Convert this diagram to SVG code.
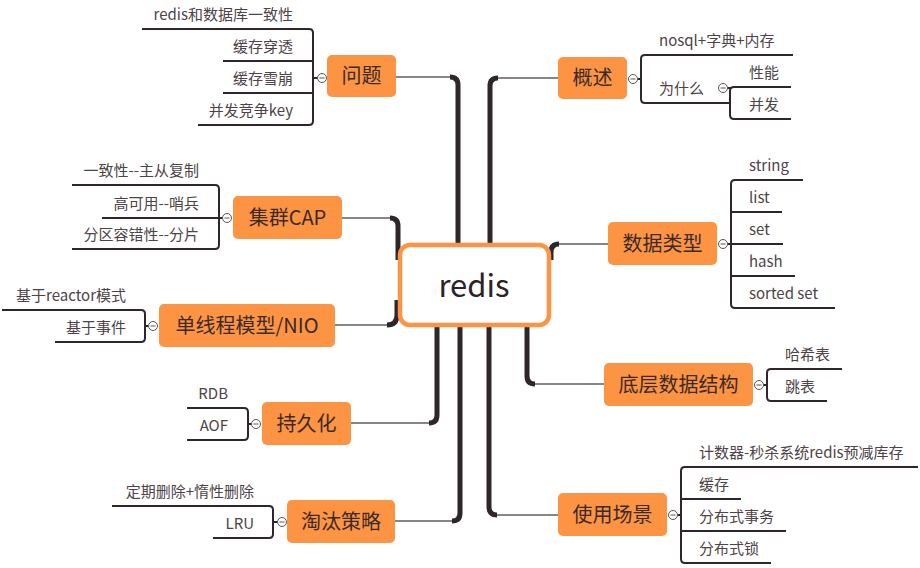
<svg xmlns="http://www.w3.org/2000/svg" width="920" height="568" viewBox="0 0 920 568">
<style>
.bg{fill:#ffffff}
.trunk{fill:none;stroke:#2e262b;stroke-width:5;stroke-linecap:butt;stroke-linejoin:round}
.stem{fill:none;stroke:#8a8488;stroke-width:2}
.br{fill:none;stroke:#2e262b;stroke-width:2}
.node rect{fill:#fc9443}
.node text{font-family:"Noto Sans CJK SC","Noto Sans",sans-serif;font-size:20px;fill:#3b2a28;text-anchor:middle}
.leaf{font-family:"Noto Sans CJK SC","Noto Sans",sans-serif;font-size:15px;fill:#4d4348}
.end{text-anchor:end}
.col circle{fill:#ffffff;stroke:#5a5358;stroke-width:1}
.col path{stroke:#5a5358;stroke-width:1}
</style>
<rect class="bg" x="0" y="0" width="920" height="568"/>

<g id="connectors">
  <path class="stem" d="M396 77 H452"/><path class="trunk" d="M450 77 Q458 77 458 85 V250"/>
  <path class="stem" d="M342 218 H392"/><path class="trunk" d="M390 218 Q398 218 398 226 V260"/>
  <path class="stem" d="M335 325 H389"/><path class="trunk" d="M387 325 Q397 325 397 315 V300"/>
  <path class="stem" d="M351 423 H431"/><path class="trunk" d="M429 423 Q437 423 437 415 V320"/>
  <path class="stem" d="M395 521 H454"/><path class="trunk" d="M452 521 Q460 521 460 513 V320"/>
  <path class="stem" d="M558 78 H496"/><path class="trunk" d="M498 78 Q490 78 490 86 V250"/>
  <path class="stem" d="M608 244 H557"/><path class="trunk" d="M559 244 Q551 244 551 252 V260"/>
  <path class="stem" d="M604 384 H533"/><path class="trunk" d="M535 384 Q527 384 527 376 V320"/>
  <path class="stem" d="M558 515 H495"/><path class="trunk" d="M497 515 Q489 515 489 507 V320"/>
</g>

<g id="redis">
  <rect x="400" y="245" width="149" height="80" rx="10" fill="#ffffff" stroke="#fc9443" stroke-width="4.5"/>
  <text x="474" y="297" font-family="'Noto Sans CJK SC','Noto Sans',sans-serif" font-size="31" fill="#2a2228" text-anchor="middle">redis</text>
</g>

<!-- 问题 -->
<g id="wenti">
  <g class="node"><rect x="327" y="55" width="69" height="42" rx="5"/><text x="361.5" y="83">问题</text></g>
  <path class="br" d="M142 29 H309 Q313 29 313 33 V121 Q313 125 309 125 H198 M223 61 H313 M223 93 H313 M313 78 H318"/>
  <g class="col"><circle cx="322" cy="78" r="4.5"/><path d="M319.5 78 H324.5"/></g>
  <text class="leaf end" x="293" y="20">redis和数据库一致性</text>
  <text class="leaf end" x="293" y="52">缓存穿透</text>
  <text class="leaf end" x="293" y="84">缓存雪崩</text>
  <text class="leaf end" x="293" y="116">并发竞争key</text>
</g>

<!-- 集群CAP -->
<g id="cap">
  <g class="node"><rect x="233" y="196" width="109" height="43" rx="5"/><text x="287.5" y="225">集群CAP</text></g>
  <path class="br" d="M72 185 H215 Q219 185 219 189 V245 Q219 249 215 249 H72 M102 218 H223"/>
  <g class="col"><circle cx="227" cy="218" r="4.5"/><path d="M224.5 218 H229.5"/></g>
  <text class="leaf end" x="199" y="176">一致性--主从复制</text>
  <text class="leaf end" x="199" y="209">高可用--哨兵</text>
  <text class="leaf end" x="199" y="240">分区容错性--分片</text>
</g>

<!-- 单线程模型/NIO -->
<g id="thread">
  <g class="node"><rect x="159" y="304" width="176" height="43" rx="5"/><text x="247" y="332.5">单线程模型/NIO</text></g>
  <path class="br" d="M2 310 H141 Q145 310 145 314 V338 Q145 342 141 342 H55 M145 326 H149"/>
  <g class="col"><circle cx="153" cy="326" r="4.5"/><path d="M150.5 326 H155.5"/></g>
  <text class="leaf end" x="126" y="301">基于reactor模式</text>
  <text class="leaf end" x="126" y="333">基于事件</text>
</g>

<!-- 持久化 -->
<g id="persist">
  <g class="node"><rect x="262" y="402" width="89" height="43" rx="5"/><text x="306.5" y="430.5">持久化</text></g>
  <path class="br" d="M187 408 H244 Q248 408 248 412 V436 Q248 440 244 440 H187 M248 424 H252"/>
  <g class="col"><circle cx="256" cy="424" r="4.5"/><path d="M253.5 424 H258.5"/></g>
  <text class="leaf end" x="228" y="399">RDB</text>
  <text class="leaf end" x="228" y="431">AOF</text>
</g>

<!-- 淘汰策略 -->
<g id="evict">
  <g class="node"><rect x="287" y="500" width="108" height="43" rx="5"/><text x="341" y="528.5">淘汰策略</text></g>
  <path class="br" d="M112 506 H269 Q273 506 273 510 V534 Q273 538 269 538 H213 M273 522 H278"/>
  <g class="col"><circle cx="282" cy="522" r="4.5"/><path d="M279.5 522 H284.5"/></g>
  <text class="leaf end" x="254" y="497">定期删除+惰性删除</text>
  <text class="leaf end" x="254" y="529">LRU</text>
</g>

<!-- 概述 -->
<g id="overview">
  <g class="node"><rect x="558" y="57" width="69" height="42" rx="5"/><text x="592.5" y="85">概述</text></g>
  <path class="br" d="M793 55 H645 Q641 55 641 59 V99 Q641 103 645 103 H730 M641 79 H637"/>
  <g class="col"><circle cx="633" cy="79" r="4.5"/><path d="M630.5 79 H635.5"/></g>
  <text class="leaf" x="659" y="46">nosql+字典+内存</text>
  <text class="leaf" x="659" y="94">为什么</text>
  <path class="br" d="M791 87 H734 Q730 87 730 91 V115 Q730 119 734 119 H791 M727 88 H731"/>
  <g class="col"><circle cx="723" cy="88" r="4.5"/><path d="M720.5 88 H725.5"/></g>
  <text class="leaf" x="749" y="78">性能</text>
  <text class="leaf" x="749" y="110">并发</text>
</g>

<!-- 数据类型 -->
<g id="datatype">
  <g class="node"><rect x="608" y="222" width="109" height="43" rx="5"/><text x="662.5" y="250.5">数据类型</text></g>
  <path class="br" d="M803 180 H735 Q731 180 731 184 V304 Q731 308 735 308 H835 M731 212 H782 M727 244 H783 M731 276 H795"/>
  <g class="col"><circle cx="723" cy="244" r="4.5"/><path d="M720.5 244 H725.5"/></g>
  <text class="leaf" x="749" y="171">string</text>
  <text class="leaf" x="749" y="203">list</text>
  <text class="leaf" x="749" y="235">set</text>
  <text class="leaf" x="749" y="267">hash</text>
  <text class="leaf" x="749" y="299">sorted set</text>
</g>

<!-- 底层数据结构 -->
<g id="structure">
  <g class="node"><rect x="604" y="363" width="149" height="43" rx="5"/><text x="678.5" y="391.5">底层数据结构</text></g>
  <path class="br" d="M842 369 H771 Q767 369 767 373 V397 Q767 401 771 401 H827 M763 385 H767"/>
  <g class="col"><circle cx="759" cy="385" r="4.5"/><path d="M756.5 385 H761.5"/></g>
  <text class="leaf" x="785" y="360">哈希表</text>
  <text class="leaf" x="785" y="392">跳表</text>
</g>

<!-- 使用场景 -->
<g id="usage">
  <g class="node"><rect x="558" y="493" width="109" height="43" rx="5"/><text x="612.5" y="521.5">使用场景</text></g>
  <path class="br" d="M918 467 H685 Q681 467 681 471 V559 Q681 563 685 563 H771 M681 499 H741 M681 531 H786 M677 515 H681"/>
  <g class="col"><circle cx="673" cy="515" r="4.5"/><path d="M670.5 515 H675.5"/></g>
  <text class="leaf" x="699" y="458">计数器-秒杀系统redis预减库存</text>
  <text class="leaf" x="699" y="490">缓存</text>
  <text class="leaf" x="699" y="522">分布式事务</text>
  <text class="leaf" x="699" y="554">分布式锁</text>
</g>
</svg>
